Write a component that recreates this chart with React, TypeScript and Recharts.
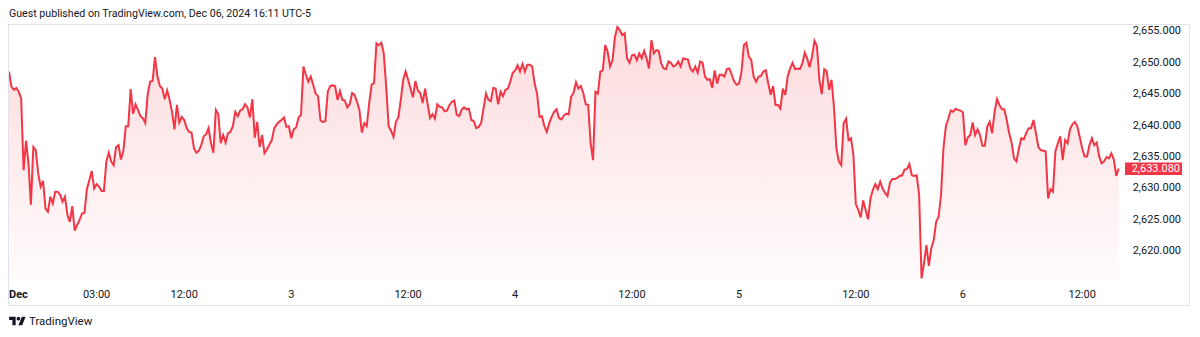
import { AreaChart, Area, XAxis, YAxis, ReferenceLine } from 'recharts';

// 15-minute closes, Dec 1 18:00 -> Dec 6 16:00 (UTC-5)
const prices = [
  2648.5, 2646.1, 2645.6, 2645.9, 2645.3, 2644.2,
  2632.8, 2637.5, 2633.9, 2627.3, 2636.5, 2636.0, 2632.3, 2630.2, 2631.1, 2626.7, 2626.2, 2628.6, 2627.5,
  2629.4, 2629.4, 2628.9, 2627.8, 2628.6, 2625.7, 2624.6, 2627.1, 2623.2, 2624.1,
  2624.9, 2625.9, 2626.0, 2629.8, 2631.2, 2632.7, 2629.9, 2630.6, 2630.2, 2629.5,
  2629.5, 2634.2, 2635.6, 2634.2, 2633.6, 2636.5, 2636.8, 2634.5, 2635.9, 2639.8,
  2639.8, 2645.7, 2641.8, 2643.3, 2642.4, 2641.4, 2641.1, 2640.3, 2644.9, 2646.9,
  2647.0, 2650.8, 2647.7, 2646.2, 2645.8, 2644.1, 2645.5, 2644.0, 2642.1, 2639.3,
  2643.2, 2640.4, 2641.3, 2640.8, 2639.5, 2638.9, 2638.8, 2636.3, 2635.6, 2635.9,
  2636.8, 2638.2, 2638.5, 2639.5, 2637.1, 2635.6, 2642.4, 2641.7, 2637.1, 2638.4,
  2637.2, 2638.7, 2638.9, 2639.8, 2642.1, 2641.4, 2642.3, 2642.5, 2643.3, 2642.8,
  2641.2, 2644.1, 2638.0, 2640.5, 2636.5, 2638.4, 2635.5, 2636.1, 2636.9, 2637.6,
  2639.5, 2640.1, 2640.5, 2640.8, 2641.2, 2639.7, 2639.8, 2637.9, 2639.3, 2639.6,
  2641.2, 2641.6, 2649.3, 2648.0, 2646.9, 2647.7, 2646.4, 2645.0, 2644.6, 2640.7,
  2640.5, 2640.6, 2645.3, 2646.2, 2646.3, 2646.2, 2644.0, 2645.4, 2644.0, 2643.9,
  2642.8, 2643.3, 2645.1, 2644.8, 2643.7, 2642.4, 2638.8, 2640.3, 2639.8, 2643.4,
  2646.4, 2646.7, 2653.0, 2652.7, 2653.1, 2651.4, 2646.1, 2639.8, 2639.1, 2638.1,
  2640.5, 2641.2, 2644.0, 2647.2, 2648.5, 2647.2, 2645.8, 2644.4, 2647.0, 2645.5,
  2645.1, 2643.5, 2645.8, 2643.4, 2641.1, 2641.7, 2641.0, 2643.3, 2642.9, 2642.8,
  2642.2, 2642.3, 2643.2, 2643.7, 2643.9, 2641.6, 2641.4, 2642.4, 2642.8, 2642.5,
  2642.6, 2640.8, 2640.6, 2639.5, 2639.7, 2640.3, 2642.6, 2645.0, 2644.0, 2643.8,
  2645.9, 2645.8, 2643.3, 2645.3, 2644.6, 2645.6, 2645.8, 2646.9, 2648.3, 2648.7,
  2649.5, 2648.5, 2649.7, 2648.5, 2649.6, 2649.6, 2649.3, 2646.6, 2645.0, 2641.3,
  2641.4, 2639.8, 2638.9, 2640.3, 2641.3, 2642.1, 2642.5, 2641.1, 2640.9, 2641.5,
  2641.8, 2641.7, 2644.5, 2645.1, 2646.8, 2645.8, 2646.2, 2645.1, 2643.3, 2643.2,
  2637.1, 2634.4, 2645.3, 2645.0, 2648.5, 2648.7, 2652.7, 2651.7, 2649.3, 2650.3,
  2654.0, 2655.6, 2655.1, 2654.3, 2654.6, 2650.6, 2649.9, 2651.1, 2651.2, 2650.3,
  2651.4, 2650.6, 2651.8, 2650.6, 2649.0, 2653.5, 2651.4, 2651.9, 2651.8, 2649.8,
  2649.0, 2648.9, 2650.1, 2649.9, 2649.3, 2649.5, 2650.1, 2649.3, 2650.6, 2650.5,
  2650.4, 2649.0, 2648.5, 2649.3, 2648.3, 2650.1, 2649.9, 2647.7, 2647.2, 2647.3,
  2645.9, 2648.7, 2646.6, 2648.0, 2648.0, 2647.7, 2648.9, 2649.0, 2648.0, 2646.9,
  2646.4, 2646.6, 2648.5, 2652.7, 2653.1, 2650.9, 2650.4, 2647.7, 2646.9, 2647.7,
  2647.8, 2648.5, 2648.7, 2646.6, 2644.8, 2646.2, 2643.2, 2643.2, 2642.6, 2645.8,
  2644.8, 2647.8, 2649.0, 2649.9, 2648.9, 2649.0, 2648.9, 2649.8, 2651.5, 2650.6,
  2649.2, 2650.9, 2653.4, 2652.6, 2647.2, 2644.9, 2648.9, 2648.6, 2645.6, 2647.2,
  2642.9, 2636.3, 2634.2, 2633.6, 2640.3, 2641.0, 2637.6, 2637.9, 2635.2, 2627.4,
  2626.5, 2625.3, 2628.0, 2626.5, 2625.0, 2628.3, 2629.7, 2630.6, 2629.8, 2631.0,
  2629.9, 2629.2, 2628.7, 2630.8, 2631.4, 2631.4, 2631.6, 2631.9, 2632.0, 2632.9,
  2633.0, 2633.8, 2632.0, 2631.9, 2632.0, 2628.9, 2615.6, 2618.0, 2620.9, 2617.6,
  2620.4, 2621.7, 2624.6, 2625.4, 2628.9, 2636.3, 2639.8, 2641.0, 2642.3, 2642.1,
  2642.6, 2642.4, 2642.3, 2642.0, 2636.8, 2638.0, 2638.4, 2640.4, 2638.4, 2639.3,
  2638.4, 2636.7, 2636.7, 2639.7, 2640.5, 2638.7, 2642.1, 2644.1, 2643.2, 2642.5,
  2642.5, 2640.8, 2638.7, 2637.2, 2634.7, 2634.2, 2636.3, 2637.9, 2637.7, 2638.7,
  2639.5, 2639.5, 2640.8, 2638.7, 2636.5, 2636.0, 2635.9, 2635.8, 2628.3, 2629.8,
  2629.4, 2635.8, 2637.1, 2638.2, 2634.4, 2637.6, 2637.1, 2639.3, 2640.1, 2640.5,
  2639.8, 2638.1, 2636.3, 2635.0, 2635.0, 2636.8, 2637.9, 2636.8, 2637.2, 2635.0,
  2633.9, 2634.2, 2634.9, 2634.7, 2635.5, 2634.5, 2631.9, 2633.08,
];

// bar index of each time-scale label
const timeTicks = [0, 36, 72, 116, 164, 208, 256, 300, 348, 392, 441];
const timeLabels = ['Dec', '03:00', '12:00', '3', '12:00', '4', '12:00', '5', '12:00', '6', '12:00'];
const priceTicks = [2620, 2625, 2630, 2635, 2640, 2645, 2650, 2655];
const lastPrice = 2633.08;

const data = prices.map((price, bar) => ({ bar, price }));

const FONT = "Roboto, 'Liberation Sans', Arial, sans-serif";
const TEXT = '#131722';
const RED = '#F23645';

const fmt = (v: number) =>
  v.toLocaleString('en-US', { minimumFractionDigits: 3, maximumFractionDigits: 3 });

const TimeTick = (props: any) => {
  const { x, y, payload } = props;
  const idx = timeTicks.indexOf(payload.value);
  const first = idx === 0;
  return (
    <text
      x={x}
      y={y + 14.3}
      textAnchor={first ? 'start' : 'middle'}
      dominantBaseline="central"
      fontFamily={FONT}
      fontSize={11}
      fontWeight={first ? 700 : 400}
      fill={TEXT}
    >
      {timeLabels[idx]}
    </text>
  );
};

const PriceTick = (props: any) => {
  const { x, y, payload } = props;
  return (
    <text x={x + 56} y={y} textAnchor="end" dominantBaseline="central" fontFamily={FONT} fontSize={11} fill={TEXT}>
      {fmt(payload.value)}
    </text>
  );
};

const LastPriceLabel = (props: any) => {
  const { viewBox } = props;
  const left = viewBox.x + viewBox.width;
  return (
    <g>
      <rect x={left} y={viewBox.y - 6} width={57} height={12.5} fill={RED} />
      <text x={left + 55} y={viewBox.y + 0.3} textAnchor="end" dominantBaseline="central" fontFamily={FONT} fontSize={11} fill="#fff">
        {fmt(lastPrice)}
      </text>
    </g>
  );
};

export default function App() {
  return (
    <div style={{ position: 'absolute', left: 0, top: 0, width: 1200, height: 337, background: '#fff', fontFamily: FONT }}>
      <div style={{ position: 'absolute', left: 9, top: 7, fontSize: 10.65, color: TEXT, whiteSpace: 'nowrap' }}>
        Guest published on TradingView.com, Dec 06, 2024 16:11 UTC-5
      </div>
      <div
        style={{
          position: 'absolute',
          left: 8,
          top: 24,
          width: 1182,
          height: 282,
          border: '1px solid #E0E3EB',
          boxSizing: 'border-box',
        }}
      />
      <div style={{ position: 'absolute', left: 0, top: 0 }}>
        <AreaChart width={1200} height={337} data={data} margin={{ top: 24, right: 0, bottom: 31, left: 9 }}>
          <defs>
            <linearGradient id="fillRed" x1="0" y1="0" x2="0" y2="1">
              <stop offset="0%" stopColor={RED} stopOpacity={0.3} />
              <stop offset="100%" stopColor={RED} stopOpacity={0.03} />
            </linearGradient>
          </defs>
          <XAxis
            dataKey="bar"
            type="number"
            domain={[0, 458.6]}
            ticks={timeTicks}
            interval={0}
            height={26}
            tickSize={0}
            tickMargin={0}
            axisLine={false}
            tickLine={false}
            tick={<TimeTick />}
            allowDataOverflow
          />
          <YAxis
            orientation="right"
            domain={[2615.34, 2656.07]}
            ticks={priceTicks}
            interval={0}
            width={75}
            tickSize={0}
            tickMargin={0}
            axisLine={false}
            tickLine={false}
            tick={<PriceTick />}
            allowDataOverflow
          />
          <Area
            type="linear"
            dataKey="price"
            stroke={RED}
            strokeWidth={2}
            fill="url(#fillRed)"
            dot={false}
            activeDot={false}
            isAnimationActive={false}
          />
          <ReferenceLine y={lastPrice} stroke="none" label={<LastPriceLabel />} />
        </AreaChart>
      </div>
      <div style={{ position: 'absolute', left: 9, top: 314, display: 'flex', alignItems: 'center', gap: 3 }}>
        <svg width={17} height={13} viewBox="0 0 36 28">
          <path d="M14 22H7V11H0V4h14v18zM28 22h-8l7.5-18h8L28 22z" fill={TEXT} />
          <circle cx={20} cy={8} r={4} fill={TEXT} />
        </svg>
        <span style={{ fontSize: 11.5, color: TEXT }}>TradingView</span>
      </div>
    </div>
  );
}
